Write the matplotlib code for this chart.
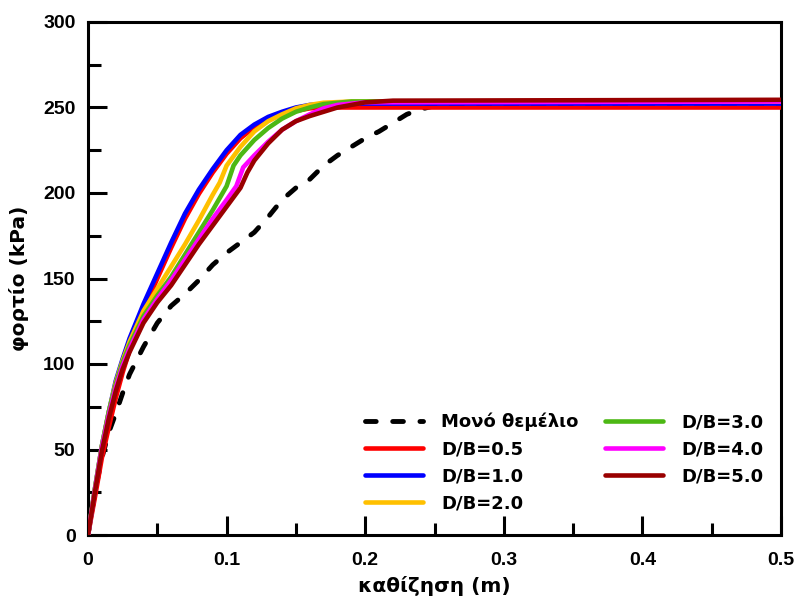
import matplotlib
matplotlib.use("Agg")
import matplotlib.pyplot as plt
from matplotlib.ticker import MultipleLocator

plt.rcParams['font.family'] = ['Liberation Sans', 'DejaVu Sans']
plt.rcParams['font.weight'] = 'bold'

# Single footing (dashed black)
s_single = [0, 0.005, 0.01, 0.015, 0.02, 0.025, 0.03, 0.04, 0.05, 0.06, 0.07, 0.08, 0.09, 0.1,
            0.11, 0.12, 0.13, 0.14, 0.15, 0.16, 0.17, 0.18, 0.19, 0.2, 0.21, 0.22, 0.23, 0.24, 0.25, 0.5]
p_single = [0, 25, 45, 60, 71, 83, 94, 110, 124, 134, 141, 149, 158, 165,
            171, 177, 186, 196, 203, 208, 216, 222, 227, 232, 236, 241, 246, 249, 251, 251]

s_db05 = [0, 0.005, 0.01, 0.015, 0.02, 0.025, 0.03, 0.04, 0.05, 0.06, 0.07, 0.08, 0.09, 0.1,
          0.11, 0.12, 0.13, 0.14, 0.15, 0.16, 0.17, 0.5]
p_db05 = [0, 22, 45, 63, 80, 95, 108, 131, 150, 168, 185, 199.5, 212, 223,
          232, 238.5, 243, 246, 248, 249.5, 250, 250]

s_db10 = [0, 0.005, 0.01, 0.015, 0.02, 0.025, 0.03, 0.04, 0.05, 0.06, 0.07, 0.08, 0.09, 0.1,
          0.11, 0.12, 0.13, 0.14, 0.15, 0.16, 0.18, 0.5]
p_db10 = [0, 27, 52, 72, 90, 103, 115, 135, 153, 171, 188, 202, 214, 225,
          234, 240, 244.5, 247.5, 250, 251.5, 252.3, 252.3]

s_db20 = [0, 0.005, 0.01, 0.015, 0.02, 0.025, 0.03, 0.04, 0.05, 0.06, 0.07, 0.08, 0.09, 0.095,
          0.1, 0.11, 0.12, 0.13, 0.14, 0.15, 0.16, 0.17, 0.19, 0.5]
p_db20 = [0, 27, 52, 72, 89, 102, 113, 131, 144, 157, 170, 184, 199, 206,
          216, 227, 236, 242, 246, 249.5, 251.5, 252.8, 253.5, 253.5]

s_db30 = [0, 0.005, 0.01, 0.015, 0.02, 0.025, 0.03, 0.04, 0.05, 0.06, 0.07, 0.08, 0.09, 0.1,
          0.105, 0.11, 0.12, 0.13, 0.14, 0.15, 0.16, 0.17, 0.19, 0.5]
p_db30 = [0, 27, 52, 72, 88, 101, 111, 128, 140, 151, 164, 177, 190, 204,
          216, 222, 231, 238, 243.5, 247.5, 250, 252, 253.5, 254]

s_db40 = [0, 0.005, 0.01, 0.015, 0.02, 0.025, 0.03, 0.04, 0.05, 0.06, 0.07, 0.08, 0.09, 0.1,
          0.107, 0.112, 0.12, 0.13, 0.14, 0.15, 0.16, 0.17, 0.18, 0.2, 0.5]
p_db40 = [0, 26, 51, 70, 86, 99, 109, 126, 138, 149, 161, 173, 185, 196,
          204, 215, 222, 230, 237, 242, 246, 249.5, 251.5, 253, 253.5]

s_db50 = [0, 0.005, 0.01, 0.015, 0.02, 0.025, 0.03, 0.04, 0.05, 0.06, 0.07, 0.08, 0.09, 0.1,
          0.11, 0.115, 0.12, 0.13, 0.14, 0.15, 0.16, 0.17, 0.18, 0.2, 0.22, 0.5]
p_db50 = [0, 25, 49, 68, 84, 97, 107, 124, 136, 146, 158, 170, 181, 192,
          203, 212, 219, 229, 237, 242, 245, 247.5, 250, 253, 254, 254.5]

labels = ['Μονό θεμέλιο', 'D/B=0.5', 'D/B=1.0', 'D/B=2.0', 'D/B=3.0', 'D/B=4.0', 'D/B=5.0']
colors = ['black', '#FF0000', '#0000FF', '#FFC000', '#4CB814', '#FF00FF', '#990000']

fig = plt.figure(figsize=(7.99, 5.98), dpi=100)
ax = fig.add_axes([88/799, 1 - 535/598, (781-88)/799, (535-22)/598])

series = [(s_single, p_single), (s_db05, p_db05), (s_db10, p_db10), (s_db20, p_db20),
          (s_db30, p_db30), (s_db40, p_db40), (s_db50, p_db50)]
for i, ((s, p), lab, c) in enumerate(zip(series, labels, colors)):
    if i == 0:
        ax.plot(s, p, color=c, lw=3.5, ls=(0, (2.2, 3.4)), dash_capstyle='round',
                label=lab, zorder=2)
    else:
        ax.plot(s, p, color=c, lw=3.3, label=lab, solid_capstyle='round',
                solid_joinstyle='round', zorder=3)

ax.set_xlim(0, 0.5)
ax.set_ylim(0, 300)
ax.xaxis.set_major_locator(MultipleLocator(0.1))
ax.xaxis.set_minor_locator(MultipleLocator(0.05))
ax.yaxis.set_major_locator(MultipleLocator(50))
ax.yaxis.set_minor_locator(MultipleLocator(25))
ax.set_xticks([0, 0.1, 0.2, 0.3, 0.4, 0.5])
ax.set_xticklabels(['0', '0.1', '0.2', '0.3', '0.4', '0.5'])
ax.tick_params(which='major', direction='in', length=14, width=2.2, labelsize=14)
ax.tick_params(axis='y', which='major', pad=9)
ax.tick_params(axis='x', which='major', pad=12)
ax.tick_params(which='minor', direction='in', length=9, width=2.2)
ax.tick_params(axis='y', which='both', left=True, right=False)
ax.tick_params(axis='x', which='both', bottom=True, top=False)
for sp in ax.spines.values():
    sp.set_linewidth(2.2)

ax.set_xlabel('καθίζηση (m)', fontsize=14.5, fontweight='bold', family='DejaVu Sans', labelpad=5)
ax.set_ylabel('φορτίο (kPa)', fontsize=14.5, fontweight='bold', family='DejaVu Sans', labelpad=10)

leg = ax.legend(loc='lower right', ncol=2, frameon=False,
                prop={'family': 'DejaVu Sans', 'weight': 'bold', 'size': 13},
                handlelength=3.2, handletextpad=1.0, columnspacing=1.5,
                labelspacing=0.5, borderaxespad=0, borderpad=0.4,
                bbox_to_anchor=(0.985, 0.03))

fig.savefig('out.png', dpi=100)
